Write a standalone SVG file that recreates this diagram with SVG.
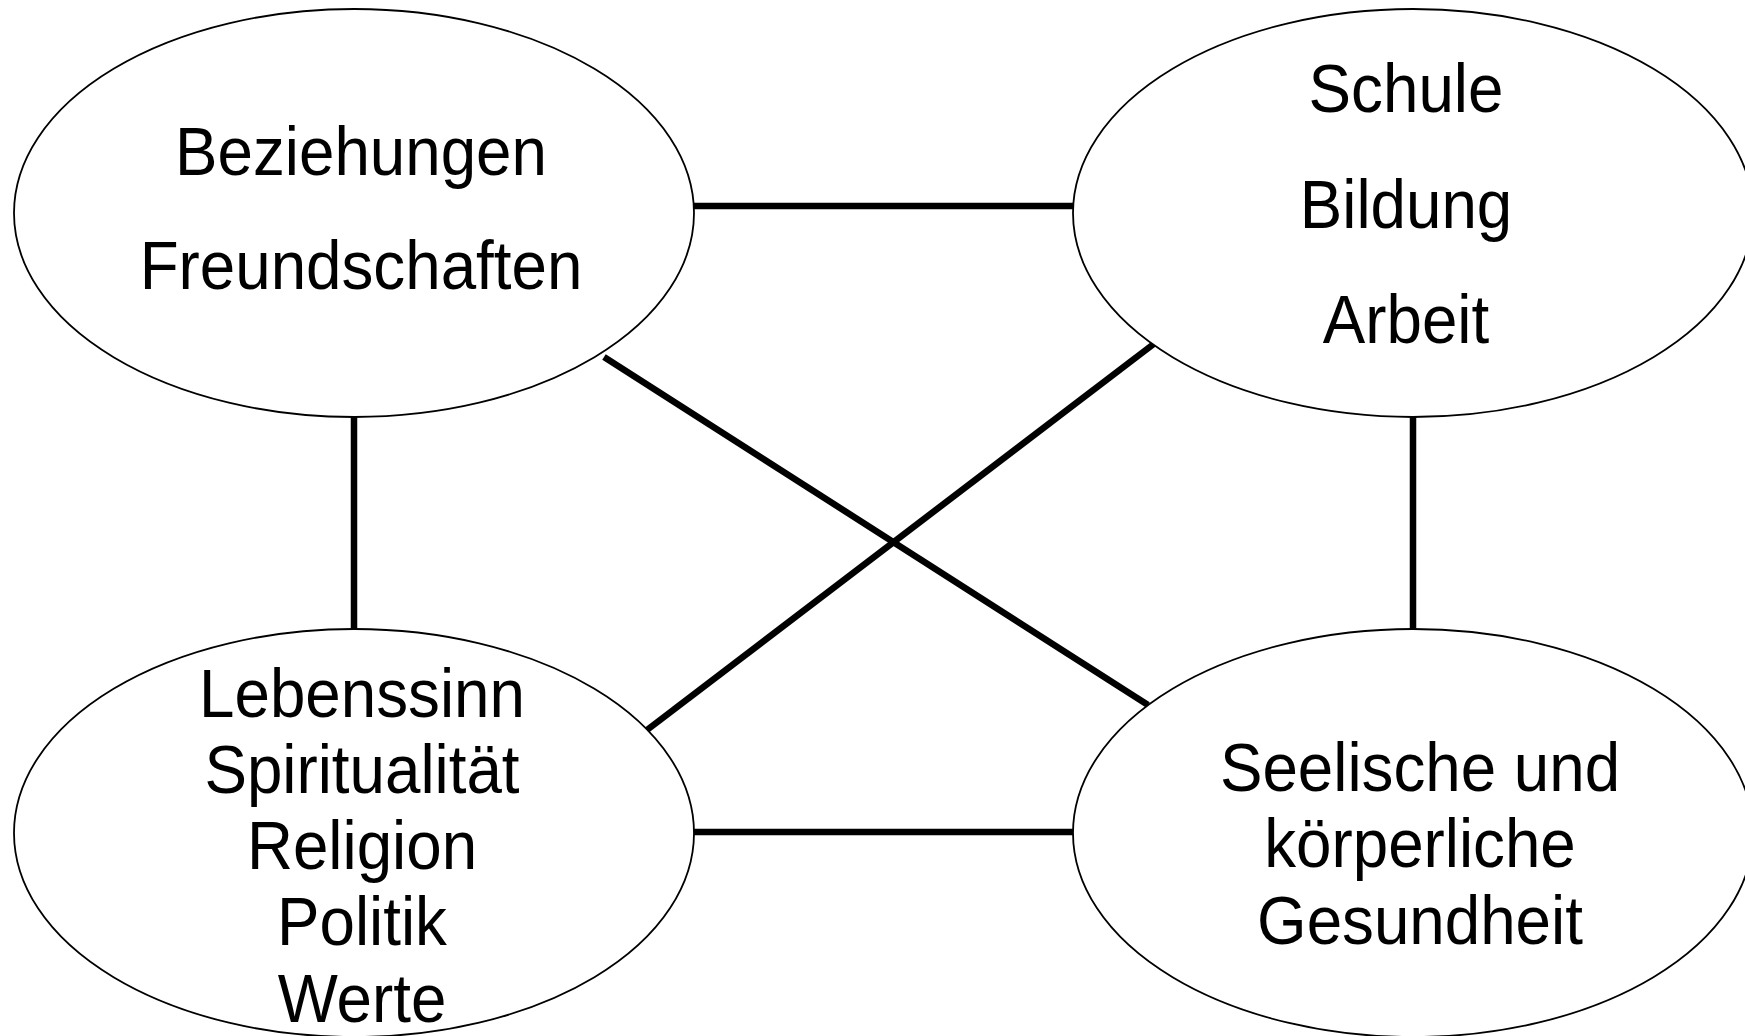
<svg xmlns="http://www.w3.org/2000/svg" width="1745" height="1036" viewBox="0 0 1745 1036">
<style>
.node ellipse { fill: #ffffff; stroke: #000000; stroke-width: 1.8; }
.node text { font-family: "Liberation Sans", Arial, sans-serif; font-size: 68px; fill: #000000; text-anchor: middle; }
.conn line { stroke: #000000; stroke-width: 6.5; stroke-linecap: butt; }
</style>
<rect x="0" y="0" width="1745" height="1036" fill="#ffffff"/>
<g class="conn" id="connectors">
<line x1="694" y1="206" x2="1073" y2="206"/>
<line x1="694" y1="832" x2="1073" y2="832"/>
<line x1="354" y1="417" x2="354" y2="629"/>
<line x1="1413" y1="417" x2="1413" y2="629"/>
<line x1="604" y1="357" x2="1148" y2="705"/>
<line x1="1155" y1="343" x2="643" y2="733"/>
</g>
<g class="node" id="beziehungen">
<ellipse cx="354" cy="213" rx="340" ry="204"/>
<g transform="translate(361,0) scale(0.937,1)">
<text x="0" y="175">Beziehungen</text>
<text x="0" y="289">Freundschaften</text>
</g>
</g>
<g class="node" id="schule">
<ellipse cx="1413" cy="213" rx="340" ry="204"/>
<g transform="translate(1406,0) scale(0.937,1)">
<text x="0" y="112">Schule</text>
<text x="0" y="228">Bildung</text>
<text x="0" y="343">Arbeit</text>
</g>
</g>
<g class="node" id="lebenssinn">
<ellipse cx="354" cy="833" rx="340" ry="204"/>
<g transform="translate(362,0) scale(0.937,1)">
<text x="0" y="717">Lebenssinn</text>
<text x="0" y="793">Spiritualität</text>
<text x="0" y="869">Religion</text>
<text x="0" y="945">Politik</text>
<text x="0" y="1022">Werte</text>
</g>
</g>
<g class="node" id="gesundheit">
<ellipse cx="1413" cy="833" rx="340" ry="204"/>
<g transform="translate(1420,0) scale(0.937,1)">
<text x="0" y="791">Seelische und</text>
<text x="0" y="867">körperliche</text>
<text x="0" y="944">Gesundheit</text>
</g>
</g>
</svg>
